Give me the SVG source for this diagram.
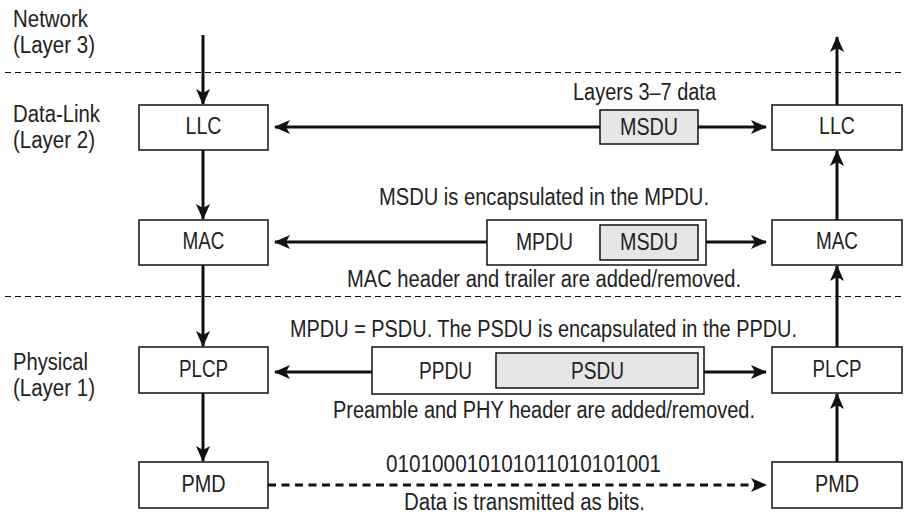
<svg xmlns="http://www.w3.org/2000/svg" width="919" height="519" viewBox="0 0 919 519">
<defs>
<marker id="ah" viewBox="0 0 16 14" refX="15" refY="7" markerWidth="16" markerHeight="14" markerUnits="userSpaceOnUse" orient="auto">
<path d="M0,0 L16,7 L0,14 L4,7 Z" fill="#111"/>
</marker>
<style>
text{font-family:"Liberation Sans",Arial,sans-serif;font-size:23px;fill:#222}
.c{text-anchor:middle}
.b{font-size:24px}
.box{fill:#fff;stroke:#111;stroke-width:1.5}
.grey{fill:#e6e6e6;stroke:#111;stroke-width:1.5}
.ln{stroke:#111;stroke-width:3;fill:none}
.sep{stroke:#111;stroke-width:1;stroke-dasharray:6 4;fill:none}
</style>
</defs>
<rect width="919" height="519" fill="#fff"/>
<g id="layer-labels">
<text x="13" y="27" textLength="75" lengthAdjust="spacingAndGlyphs">Network</text>
<text x="13" y="53" textLength="82" lengthAdjust="spacingAndGlyphs">(Layer 3)</text>
<text x="13" y="122" textLength="87" lengthAdjust="spacingAndGlyphs">Data-Link</text>
<text x="13" y="148" textLength="82" lengthAdjust="spacingAndGlyphs">(Layer 2)</text>
<text x="13" y="370" textLength="75" lengthAdjust="spacingAndGlyphs">Physical</text>
<text x="13" y="396" textLength="82" lengthAdjust="spacingAndGlyphs">(Layer 1)</text>
</g>
<g id="separators">
<line class="sep" x1="5" y1="72.5" x2="905" y2="72.5"/>
<line class="sep" x1="5" y1="296.5" x2="905" y2="296.5"/>
</g>
<g id="connectors">
<line class="ln" x1="203" y1="35" x2="203" y2="104" marker-end="url(#ah)"/>
<line class="ln" x1="203" y1="150" x2="203" y2="219" marker-end="url(#ah)"/>
<line class="ln" x1="203" y1="265" x2="203" y2="346" marker-end="url(#ah)"/>
<line class="ln" x1="203" y1="393" x2="203" y2="461" marker-end="url(#ah)"/>
<line class="ln" x1="837" y1="462" x2="837" y2="394" marker-end="url(#ah)"/>
<line class="ln" x1="837" y1="347" x2="837" y2="266" marker-end="url(#ah)"/>
<line class="ln" x1="837" y1="220" x2="837" y2="151" marker-end="url(#ah)"/>
<line class="ln" x1="837" y1="105" x2="837" y2="37" marker-end="url(#ah)"/>
<line class="ln" x1="600" y1="127" x2="275" y2="127" marker-end="url(#ah)"/>
<line class="ln" x1="698" y1="127" x2="766" y2="127" marker-end="url(#ah)"/>
<line class="ln" x1="487" y1="242" x2="275" y2="242" marker-end="url(#ah)"/>
<line class="ln" x1="706" y1="242" x2="766" y2="242" marker-end="url(#ah)"/>
<line class="ln" x1="372" y1="372" x2="275" y2="372" marker-end="url(#ah)"/>
<line class="ln" x1="704" y1="372" x2="766" y2="372" marker-end="url(#ah)"/>
<line class="ln" x1="268" y1="485" x2="766" y2="485" stroke-width="4" stroke-dasharray="8 5.5" marker-end="url(#ah)"/>
</g>
<g id="llc-left"><rect class="box" x="139" y="105" width="129" height="45"/><text class="c b" x="203.5" y="134" textLength="36" lengthAdjust="spacingAndGlyphs">LLC</text></g>
<g id="mac-left"><rect class="box" x="139" y="220" width="129" height="45"/><text class="c b" x="203.5" y="249" textLength="42" lengthAdjust="spacingAndGlyphs">MAC</text></g>
<g id="plcp-left"><rect class="box" x="139" y="347" width="129" height="46"/><text class="c b" x="203.5" y="377" textLength="49" lengthAdjust="spacingAndGlyphs">PLCP</text></g>
<g id="pmd-left"><rect class="box" x="139" y="462" width="129" height="46"/><text class="c b" x="203.5" y="492" textLength="44" lengthAdjust="spacingAndGlyphs">PMD</text></g>
<g id="llc-right"><rect class="box" x="772" y="105" width="130" height="45"/><text class="c b" x="837" y="134" textLength="36" lengthAdjust="spacingAndGlyphs">LLC</text></g>
<g id="mac-right"><rect class="box" x="772" y="220" width="130" height="45"/><text class="c b" x="837" y="249" textLength="42" lengthAdjust="spacingAndGlyphs">MAC</text></g>
<g id="plcp-right"><rect class="box" x="772" y="347" width="130" height="46"/><text class="c b" x="837" y="377" textLength="49" lengthAdjust="spacingAndGlyphs">PLCP</text></g>
<g id="pmd-right"><rect class="box" x="772" y="462" width="130" height="46"/><text class="c b" x="837" y="492" textLength="44" lengthAdjust="spacingAndGlyphs">PMD</text></g>
<g id="msdu">
<text class="c" x="644.5" y="100" textLength="143" lengthAdjust="spacingAndGlyphs">Layers 3–7 data</text>
<rect class="grey" x="600" y="110" width="98" height="34"/><text class="c" x="649" y="135" textLength="58" lengthAdjust="spacingAndGlyphs">MSDU</text>
</g>
<g id="mpdu">
<text class="c" x="544" y="205" textLength="330" lengthAdjust="spacingAndGlyphs">MSDU is encapsulated in the MPDU.</text>
<rect class="box" x="487" y="220" width="219" height="45"/>
<text class="c" x="544.5" y="250" textLength="57" lengthAdjust="spacingAndGlyphs">MPDU</text>
<rect class="grey" x="600" y="225" width="98" height="35"/><text class="c" x="649" y="250" textLength="58" lengthAdjust="spacingAndGlyphs">MSDU</text>
<text class="c" x="544" y="287" textLength="394" lengthAdjust="spacingAndGlyphs">MAC header and trailer are added/removed.</text>
</g>
<g id="ppdu">
<text class="c" x="543.5" y="337" textLength="507" lengthAdjust="spacingAndGlyphs">MPDU = PSDU. The PSDU is encapsulated in the PPDU.</text>
<rect class="box" x="372" y="347" width="332" height="47"/>
<text class="c" x="445.5" y="379" textLength="53" lengthAdjust="spacingAndGlyphs">PPDU</text>
<rect class="grey" x="496" y="353" width="202" height="35"/><text class="c" x="597.5" y="379" textLength="53" lengthAdjust="spacingAndGlyphs">PSDU</text>
<text class="c" x="544" y="418" textLength="422" lengthAdjust="spacingAndGlyphs">Preamble and PHY header are added/removed.</text>
</g>
<g id="bits">
<text class="c" x="523.5" y="472" textLength="275" lengthAdjust="spacingAndGlyphs">010100010101011010101001</text>
<text class="c" x="524.5" y="510" textLength="241" lengthAdjust="spacingAndGlyphs">Data is transmitted as bits.</text>
</g>
</svg>
